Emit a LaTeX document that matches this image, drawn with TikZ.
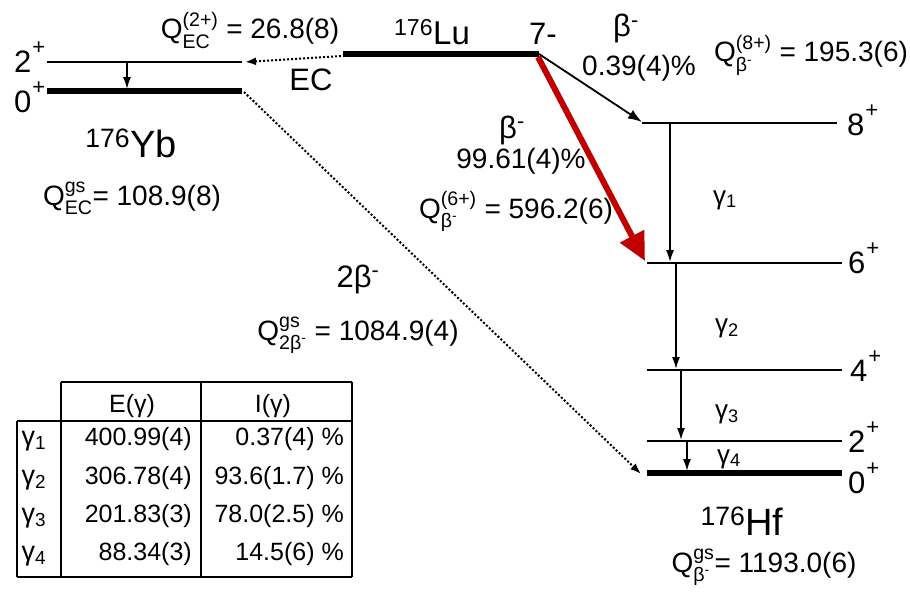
\documentclass[tikz,border=0pt]{standalone}
\usepackage{fontspec}
\setmainfont{Liberation Sans}
\usepackage{amsmath}
\usetikzlibrary{arrows.meta}
\definecolor{dred}{RGB}{192,0,0}
\newcommand\Qx[2]{Q$^{\text{#1}}_{\text{#2}}$}
\newcommand\bmin{β\textsuperscript{-}}
\newcommand\gam[1]{γ\textsubscript{#1}}
\newcommand\supx[1]{\textsuperscript{#1}}
\newcommand\spinp[1]{#1\kern1pt\raisebox{0.55em}{\fontsize{22}{24}\selectfont +}}
\begin{document}
\begin{tikzpicture}[x=1pt,y=-1pt,
  every node/.style={inner sep=0pt},
  txt/.style={anchor=base,font=\fontsize{28}{32}\selectfont},
  btxt/.style={anchor=base,font=\fontsize{31}{34}\selectfont},
  spin/.style={anchor=base west,font=\fontsize{31}{34}\selectfont},
  nuc/.style={anchor=base,font=\fontsize{38}{42}\selectfont},
  glab/.style={anchor=base,font=\fontsize{26}{30}\selectfont},
  tab/.style={font=\fontsize{25}{29}\selectfont},
  lev/.style={line width=2pt},
  gslev/.style={line width=5.5pt},
  gtr/.style={line width=1.6pt,-{Latex[length=12pt,width=8pt]}},
  dotarr/.style={line width=2pt,dash pattern=on 2pt off 2pt,-{Latex[length=11pt,width=8pt]}},
  tline/.style={line width=2.5pt}]
\useasboundingbox (0,0) rectangle (910,594);

% levels
\coordinate (yb2L) at (47,62);  \coordinate (yb2R) at (242,62);
\coordinate (yb0L) at (47,91);  \coordinate (yb0R) at (242,91);
\coordinate (luL) at (343,54);  \coordinate (luR) at (539,54);
\coordinate (hf8L) at (642,123); \coordinate (hf8R) at (837,123);
\coordinate (hf6L) at (647,263); \coordinate (hf6R) at (842,263);
\coordinate (hf4L) at (647,370); \coordinate (hf4R) at (842,370);
\coordinate (hf2L) at (647,441); \coordinate (hf2R) at (842,441);
\coordinate (hf0L) at (647,473); \coordinate (hf0R) at (842,473);

\draw[lev] (yb2L) -- (yb2R);
\draw[gslev] (yb0L) -- (yb0R);
\draw[line width=6pt] (luL) -- (luR);
\draw[lev] (hf8L) -- (hf8R);
\draw[lev] (hf6L) -- (hf6R);
\draw[lev] (hf4L) -- (hf4R);
\draw[lev] (hf2L) -- (hf2R);
\draw[gslev] (hf0L) -- (hf0R);

% gamma transitions
\coordinate (ybg1) at (127,62); \coordinate (ybg2) at (127,89);
\draw[gtr] (ybg1) -- (ybg2);
\coordinate (g1a) at (670,123); \coordinate (g1b) at (670,262);
\coordinate (g2a) at (676,263); \coordinate (g2b) at (676,369);
\coordinate (g3a) at (681,370); \coordinate (g3b) at (681,440);
\coordinate (g4a) at (687,441); \coordinate (g4b) at (687,471);
\draw[gtr] (g1a) -- (g1b);
\draw[gtr] (g2a) -- (g2b);
\draw[gtr] (g3a) -- (g3b);
\draw[gtr] (g4a) -- (g4b);

% decays
\coordinate (ecS) at (341,56); \coordinate (ecE) at (245,62);
\draw[dotarr] (ecS) -- (ecE);
\coordinate (bbS) at (244,92); \coordinate (bbE) at (641,474);
\draw[dotarr] (bbS) -- (bbE);
\coordinate (b8E) at (642,122);
\draw[line width=1.8pt,-{Latex[length=14pt,width=10pt]}] (luR) -- (b8E);
\coordinate (b6S) at (538,57); \coordinate (b6E) at (645,261);
\draw[dred,line width=6pt,-{Triangle[length=28pt,width=26pt]}] (b6S) -- (b6E);

% labels
\node[spin] (l2yb) at (14,72) {\spinp{2}};
\node[spin] (l0yb) at (14,112) {\spinp{0}};
\node[nuc] (yb) at (131,157) {\supx{176}Yb};
\node[txt] (qecgs) at (132,205) {\Qx{gs}{EC}= 108.9(8)};
\node[txt] (qec2) at (250,39) {\Qx{(2+)}{EC} = 26.8(8)};
\node[anchor=base,font=\fontsize{31}{34}\selectfont] (ec) at (311,91) {EC};
\node[anchor=base,font=\fontsize{33}{36}\selectfont] (lu) at (432,45) {\supx{176}Lu};
\node[anchor=base,font=\fontsize{31}{34}\selectfont] (lu7) at (543,45) {7-};
\node[btxt] (bm1) at (626,37) {\bmin};
\node[txt] (br1) at (639,76) {0.39(4)\%};
\node[txt] (q8) at (811,62) {\Qx{(8+)}{\bmin} = 195.3(6)};
\node[btxt] (bm2) at (512,138) {\bmin};
\node[txt] (br2) at (521,168) {99.61(4)\%};
\node[txt] (q6) at (516,218) {\Qx{(6+)}{\bmin} = 596.2(6)};
\node[btxt] (bb) at (358,287) {2\bmin};
\node[txt] (qbb) at (358,340) {\Qx{gs}{2\bmin} = 1084.9(4)};
\node[spin] (l8) at (847,135) {\spinp{8}};
\node[spin] (l6) at (848,273) {\spinp{6}};
\node[spin] (l4) at (850,381) {\spinp{4}};
\node[spin] (l2) at (848,452) {\spinp{2}};
\node[spin] (l0) at (848,493) {\spinp{0}};
\node[glab] (gl1) at (725,204) {\gam{1}};
\node[glab] (gl2) at (727,332) {\gam{2}};
\node[glab] (gl3) at (727,418) {\gam{3}};
\node[glab] (gl4) at (729,463) {\gam{4}};
\node[nuc] (hf) at (742,535) {\supx{176}Hf};
\node[txt] (qgs) at (764,572) {\Qx{gs}{\bmin}= 1193.0(6)};

% table
\coordinate (t1) at (61,382); \coordinate (t2) at (201,382); \coordinate (t3) at (352,382);
\coordinate (h0) at (17,421); \coordinate (h1) at (61,421); \coordinate (h3) at (352,421);
\coordinate (b0) at (17,577); \coordinate (b1) at (61,577); \coordinate (b2) at (201,577); \coordinate (b3) at (352,577);
\draw[tline] (t1) -- (t3);
\draw[tline] (h0) -- (h3);
\draw[tline] (b0) -- (b3);
\draw[tline] (h0) -- (b0);
\draw[tline] (t1) -- (b1);
\draw[tline] (t2) -- (b2);
\draw[tline] (t3) -- (b3);
\node[tab,anchor=base] (hE) at (132,412) {E(γ)};
\node[tab,anchor=base] (hI) at (273,412) {I(γ)};
\node[tab,anchor=base,font=\fontsize{27}{30}\selectfont] (r1) at (34,445) {\gam{1}};
\node[tab,anchor=base,font=\fontsize{27}{30}\selectfont] (r2) at (34,484) {\gam{2}};
\node[tab,anchor=base,font=\fontsize{27}{30}\selectfont] (r3) at (34,522) {\gam{3}};
\node[tab,anchor=base,font=\fontsize{27}{30}\selectfont] (r4) at (34,560) {\gam{4}};
\node[tab,anchor=base east] (e1) at (192,445) {400.99(4)};
\node[tab,anchor=base east] (e2) at (192,484) {306.78(4)};
\node[tab,anchor=base east] (e3) at (192,522) {201.83(3)};
\node[tab,anchor=base east] (e4) at (192,560) {88.34(3)};
\node[tab,anchor=base east] (i1) at (344,445) {0.37(4) \%};
\node[tab,anchor=base east] (i2) at (344,484) {93.6(1.7) \%};
\node[tab,anchor=base east] (i3) at (344,522) {78.0(2.5) \%};
\node[tab,anchor=base east] (i4) at (344,560) {14.5(6) \%};
\end{tikzpicture}
\end{document}
